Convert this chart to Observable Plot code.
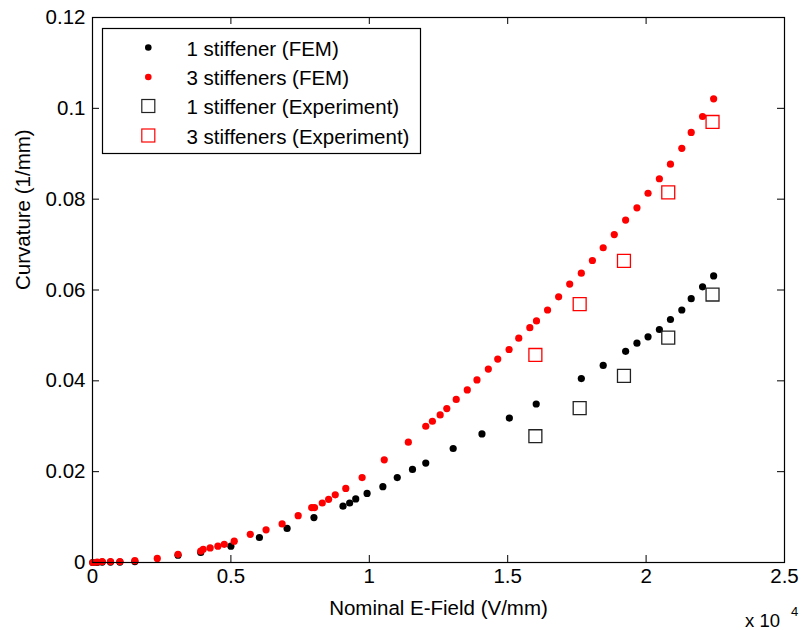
<!DOCTYPE html>
<html><head><meta charset="utf-8">
<script src="https://cdn.jsdelivr.net/npm/d3@7"></script>
<script src="https://cdn.jsdelivr.net/npm/@observablehq/plot@0.6"></script>
<style>
body{margin:0;background:#fff}
#chart{position:relative;width:802px;height:630px}
</style>
</head><body><div id="chart"></div>
<script>
// ---- data (x in V/mm, y in 1/mm) ----
const fem1X = [10,170,350,650,990,1530,3090,3910,5000,6030,7030,8000,9050,9290,9510,9920,10490,11010,11560,12040,13030,14070,15060,16030,17660,18450,19260,19670,20070,20480,20880,21290,21630,22040,22440];
const fem1Y = [0.0000,0.0000,0.0001,0.0001,0.0001,0.0002,0.0016,0.0022,0.0036,0.0055,0.0075,0.0099,0.0124,0.0131,0.0140,0.0152,0.0167,0.0187,0.0205,0.0219,0.0251,0.0283,0.0318,0.0349,0.0405,0.0434,0.0465,0.0483,0.0497,0.0513,0.0535,0.0556,0.0581,0.0607,0.0631];
const fem3X = [10,170,350,650,990,1530,2340,3090,3910,4000,4250,4530,4760,5120,5700,6270,6850,7430,7920,8020,8300,8530,8770,9150,9740,10540,11410,12040,12280,12560,12800,13140,13540,13890,14300,14640,15050,15400,15800,16040,16440,16840,17240,17660,18060,18450,18850,19260,19670,20070,20480,20880,21290,21630,22040,22440];
const fem3Y = [0.0000,0.0001,0.0002,0.0002,0.0002,0.0004,0.0009,0.0018,0.0025,0.0029,0.0032,0.0036,0.0040,0.0047,0.0062,0.0072,0.0085,0.0103,0.0121,0.0121,0.0131,0.0139,0.0149,0.0163,0.0187,0.0226,0.0265,0.0300,0.0311,0.0325,0.0339,0.0359,0.0380,0.0402,0.0426,0.0448,0.0469,0.0494,0.0517,0.0532,0.0556,0.0585,0.0613,0.0637,0.0665,0.0693,0.0722,0.0754,0.0781,0.0813,0.0845,0.0877,0.0912,0.0947,0.0982,0.1021];
const expX  = [16000,17600,19200,20800,22400];
const exp1Y = [0.0278,0.0340,0.0411,0.0495,0.0590];
const exp3Y = [0.0457,0.0569,0.0664,0.0815,0.0970];

const xTicks = [0,5000,10000,15000,20000,25000];
const xTickLabels = ["0","0.5","1","1.5","2","2.5"];
const yTicks = [0,0.02,0.04,0.06,0.08,0.1,0.12];
const yTickLabels = ["0","0.02","0.04","0.06","0.08","0.1","0.12"];
const seriesNames = ["1 stiffener (FEM)","3 stiffeners (FEM)","1 stiffener (Experiment)","3 stiffeners (Experiment)"];
const xLabel = "Nominal E-Field (V/mm)";
const yLabel = "Curvature (1/mm)";

const fem1 = fem1X.map((x,i)=>({x, y: fem1Y[i]}));
const fem3 = fem3X.map((x,i)=>({x, y: fem3Y[i]}));
const exp1 = expX.map((x,i)=>({x, y: exp1Y[i]}));
const exp3 = expX.map((x,i)=>({x, y: exp3Y[i]}));

// ---- layout ----
const W = 802, H = 630, mL = 92, mR = 18, mT = 17, mB = 68;
const innerW = W - mL - mR, innerH = H - mT - mB, tk = 7;
const FONT = "'Liberation Sans', Arial, Helvetica, sans-serif";

const svg = Plot.plot({
  width: W, height: H,
  marginLeft: mL, marginRight: mR, marginTop: mT, marginBottom: mB,
  style: {fontFamily: FONT, fontSize: "20.5px", background: "#fff", color: "#000"},
  x: {domain: [0, 25000]},
  y: {domain: [0, 0.12]},
  marks: [
    Plot.axisX({ticks: xTicks, tickSize: 0, tickPadding: 6, label: null,
      tickFormat: d => xTickLabels[xTicks.indexOf(d)], fontSize: 20.5}),
    Plot.axisY({ticks: yTicks, tickSize: 0, tickPadding: 7, label: null,
      tickFormat: d => yTickLabels[yTicks.indexOf(d)], fontSize: 20.5}),
    Plot.tickX(xTicks, {x: d => d, insetTop: innerH - tk, stroke: "#000", strokeWidth: 1}),
    Plot.tickX(xTicks, {x: d => d, insetBottom: innerH - tk, stroke: "#000", strokeWidth: 1}),
    Plot.tickY(yTicks, {y: d => d, insetRight: innerW - tk, stroke: "#000", strokeWidth: 1}),
    Plot.tickY(yTicks, {y: d => d, insetLeft: innerW - tk, stroke: "#000", strokeWidth: 1}),
    Plot.dot(fem1, {x: "x", y: "y", r: 3.6, fill: "#000", stroke: "none"}),
    Plot.dot(fem3, {x: "x", y: "y", r: 3.6, fill: "#ff0000", stroke: "none"}),
    Plot.dot(exp1, {x: "x", y: "y", symbol: "square", r: 7.3, fill: "none", stroke: "#222", strokeWidth: 1.3}),
    Plot.dot(exp3, {x: "x", y: "y", symbol: "square", r: 7.3, fill: "none", stroke: "#ff0000", strokeWidth: 1.3}),
    Plot.frame({stroke: "#000", strokeWidth: 1.2}),
    Plot.text([xLabel], {frameAnchor: "bottom", text: d => d, dy: 46, lineAnchor: "middle", fontSize: 20.5, fill: "#000"}),
    Plot.text([yLabel], {frameAnchor: "left", text: d => d, dx: -69, rotate: -90, lineAnchor: "middle", fontSize: 20.5, fill: "#000"})
  ]
});

// exponent annotation and legend (layout elements)
const s = d3.select(svg);
s.append("text").attr("x", 745).attr("y", 627).attr("text-anchor", "start").attr("font-family", FONT)
  .attr("font-size", 18.5).attr("fill", "#000").text("x 10");
s.append("text").attr("x", 791).attr("y", 616).attr("text-anchor", "start").attr("font-family", FONT)
  .attr("font-size", 13).attr("fill", "#000").text("4");

const lg = s.append("g");
lg.append("rect").attr("x", 102.5).attr("y", 28.5).attr("width", 318).attr("height", 125)
  .attr("fill", "#fff").attr("stroke", "#000").attr("stroke-width", 1.2);
const rowsY = [47.5, 77, 106, 135.5];
const mx = 148.3;
lg.append("circle").attr("cx", mx).attr("cy", rowsY[0]).attr("r", 3.3).attr("fill", "#000");
lg.append("circle").attr("cx", mx).attr("cy", rowsY[1]).attr("r", 3.3).attr("fill", "#ff0000");
lg.append("rect").attr("x", mx - 6.5).attr("y", rowsY[2] - 6.5).attr("width", 13).attr("height", 13)
  .attr("fill", "none").attr("stroke", "#222").attr("stroke-width", 1.2);
lg.append("rect").attr("x", mx - 6.5).attr("y", rowsY[3] - 6.5).attr("width", 13).attr("height", 13)
  .attr("fill", "none").attr("stroke", "#ff0000").attr("stroke-width", 1.2);
seriesNames.forEach((name, i) => {
  lg.append("text").attr("x", 186.5).attr("y", rowsY[i] + 8).attr("text-anchor", "start")
    .attr("font-family", FONT).attr("font-size", 20.5).attr("fill", "#000").text(name);
});

document.getElementById("chart").appendChild(svg);
</script>
</body></html>
